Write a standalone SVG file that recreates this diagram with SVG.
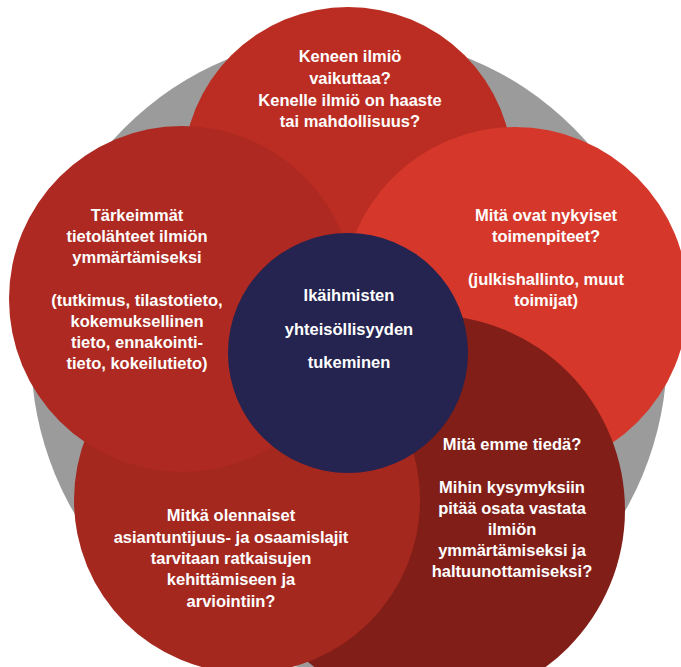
<svg xmlns="http://www.w3.org/2000/svg" width="681" height="667" viewBox="0 0 681 667">
<style>
.t{font-family:"Liberation Sans",Arial,sans-serif;font-weight:bold;font-size:16.5px;fill:#ffffff;text-anchor:middle}
</style>
<rect width="681" height="667" fill="#ffffff"/>
<g id="ring"><circle cx="349" cy="353" r="318" fill="#9b9b9b"/></g>
<g id="node-top">
<circle cx="348" cy="172" r="165" fill="#bb2d22"/>
<text class="t"><tspan x="350" y="62">Keneen ilmiö</tspan><tspan x="350" y="84">vaikuttaa?</tspan><tspan x="350" y="106">Kenelle ilmiö on haaste</tspan><tspan x="350" y="127">tai mahdollisuus?</tspan></text>
</g>
<g id="node-right">
<circle cx="515" cy="300" r="173" fill="#d5382b"/>
<text class="t"><tspan x="546" y="221">Mitä ovat nykyiset</tspan><tspan x="546" y="242">toimenpiteet?</tspan><tspan x="546" y="285">(julkishallinto, muut</tspan><tspan x="546" y="306">toimijat)</tspan></text>
</g>
<g id="node-bottom-right">
<circle cx="430" cy="510" r="195" fill="#821e18"/>
<text class="t"><tspan x="512" y="450">Mitä emme tiedä?</tspan><tspan x="512" y="493">Mihin kysymyksiin</tspan><tspan x="512" y="514">pitää osata vastata</tspan><tspan x="512" y="535">ilmiön</tspan><tspan x="512" y="556">ymmärtämiseksi ja</tspan><tspan x="512" y="577">haltuunottamiseksi?</tspan></text>
</g>
<g id="node-bottom-left">
<circle cx="247" cy="500" r="173" fill="#a5281f"/>
<text class="t"><tspan x="231" y="521">Mitkä olennaiset</tspan><tspan x="231" y="543">asiantuntijuus- ja osaamislajit</tspan><tspan x="231" y="564">tarvitaan ratkaisujen</tspan><tspan x="231" y="585">kehittämiseen ja</tspan><tspan x="231" y="607">arviointiin?</tspan></text>
</g>
<g id="node-left">
<circle cx="182" cy="299" r="173" fill="#ad2921"/>
<text class="t"><tspan x="137" y="221">Tärkeimmät</tspan><tspan x="137" y="242">tietolähteet ilmiön</tspan><tspan x="137" y="263">ymmärtämiseksi</tspan><tspan x="137" y="306">(tutkimus, tilastotieto,</tspan><tspan x="137" y="327">kokemuksellinen</tspan><tspan x="137" y="348">tieto, ennakointi-</tspan><tspan x="137" y="369">tieto, kokeilutieto)</tspan></text>
</g>
<g id="node-center">
<circle cx="348" cy="353" r="120" fill="#25234f"/>
<text class="t"><tspan x="349" y="301">Ikäihmisten</tspan><tspan x="349" y="335">yhteisöllisyyden</tspan><tspan x="349" y="368">tukeminen</tspan></text>
</g>
<g id="connectors"/>
</svg>
